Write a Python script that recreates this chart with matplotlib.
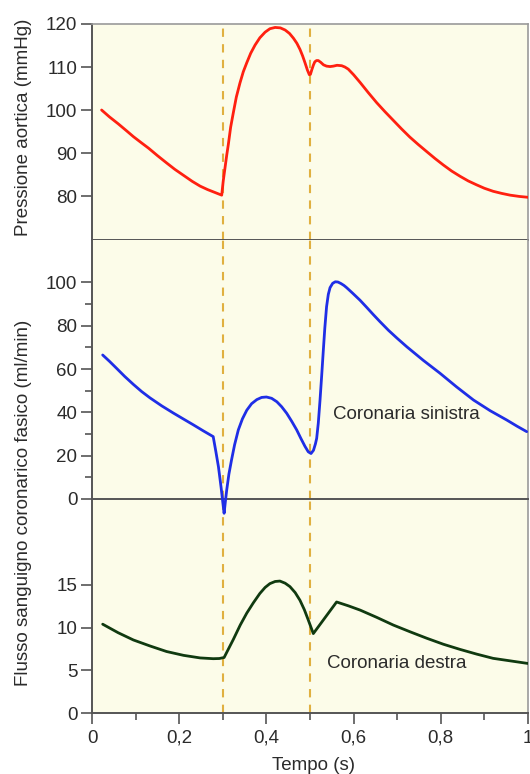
import matplotlib
matplotlib.use("Agg")
import matplotlib.pyplot as plt
from matplotlib.ticker import FixedLocator

plt.rcParams['font.family'] = ['Liberation Sans', 'DejaVu Sans']

# ---------------- data ----------------
t_aorta = [0.022, 0.04, 0.06, 0.08, 0.095, 0.113, 0.13, 0.15, 0.171, 0.19,
           0.21, 0.23, 0.248, 0.265, 0.28, 0.2975,
           0.301, 0.305, 0.309, 0.3127, 0.318, 0.324, 0.331, 0.3394, 0.347,
           0.355, 0.364, 0.374, 0.385, 0.397, 0.408, 0.42, 0.432, 0.443,
           0.453, 0.462, 0.47, 0.477, 0.483, 0.4885, 0.494, 0.4985, 0.501,
           0.504, 0.5076, 0.511, 0.515, 0.519, 0.5245, 0.531, 0.538, 0.546,
           0.5535, 0.562, 0.5727, 0.58, 0.5878, 0.60, 0.615, 0.634, 0.653,
           0.672, 0.691, 0.71, 0.729, 0.748, 0.768, 0.787, 0.806, 0.825,
           0.844, 0.863, 0.882, 0.90, 0.92, 0.94, 0.959, 0.98, 1.0]
p_aorta = [100.0, 98.4, 96.8, 95.1, 93.8, 92.4, 91.1, 89.4, 87.7, 86.2,
           84.8, 83.4, 82.3, 81.5, 80.9, 80.2,
           83.5, 86.5, 89.5, 92.0, 96.0, 99.3, 103.0, 106.3, 108.9,
           111.0, 113.2, 115.1, 116.8, 118.1, 118.9, 119.2, 119.1, 118.6,
           117.8, 116.7, 115.5, 114.1, 112.6, 111.0, 109.3, 108.2, 108.3,
           109.3, 110.4, 111.2, 111.5, 111.5, 111.1, 110.5, 110.2, 110.1,
           110.2, 110.4, 110.3, 110.0, 109.5, 108.2, 106.4, 104.0, 101.7,
           99.6, 97.6, 95.6, 93.7, 92.0, 90.3, 88.7, 87.2, 85.8,
           84.6, 83.5, 82.6, 81.8, 81.1, 80.6, 80.2, 79.9, 79.7]

t_sin = [0.0245, 0.04, 0.0566, 0.075, 0.095, 0.114, 0.133, 0.16, 0.1865,
         0.21, 0.232, 0.255, 0.278, 0.284, 0.29, 0.296, 0.3, 0.303, 0.306,
         0.309, 0.314, 0.32, 0.327, 0.3356, 0.345, 0.355, 0.366, 0.378,
         0.389, 0.40, 0.412, 0.424, 0.435, 0.4465, 0.458, 0.4695, 0.479,
         0.4885, 0.496, 0.5023, 0.508, 0.5125, 0.5153, 0.519, 0.523, 0.5268,
         0.5306, 0.534, 0.538, 0.542, 0.546, 0.552, 0.558, 0.564, 0.571,
         0.578, 0.584, 0.598, 0.6147, 0.63, 0.645, 0.66, 0.68, 0.70, 0.722,
         0.76, 0.798, 0.836, 0.875, 0.913, 0.951, 0.975, 0.997]
q_sin = [66.5, 63.6, 60.3, 56.6, 52.9, 49.6, 46.7, 43.0, 39.7,
         36.9, 34.3, 31.5, 28.8, 22.0, 14.9, 5.5, -1.5, -6.6, -1.0,
         4.2, 11.5, 18.0, 25.0, 31.9, 37.0, 41.0, 44.0, 45.9,
         46.9, 47.1, 46.5, 44.9, 42.6, 39.6, 35.9, 31.9, 28.0,
         24.3, 21.8, 21.0, 22.5, 25.5, 28.0, 35.0, 45.7, 57.0,
         68.8, 79.0, 88.8, 94.5, 97.6, 99.6, 100.3, 100.2, 99.5,
         98.6, 97.6, 95.0, 91.8, 88.5, 85.2, 82.0, 77.9, 74.2, 70.3,
         64.0, 58.1, 51.8, 45.7, 40.8, 36.5, 33.6, 31.1]

t_des = [0.0245, 0.06, 0.095, 0.133, 0.171, 0.21, 0.248, 0.278, 0.292,
         0.303, 0.313, 0.324, 0.34, 0.355, 0.37, 0.385, 0.397, 0.408, 0.42,
         0.431, 0.443, 0.454, 0.466, 0.477, 0.487, 0.496, 0.5076, 0.535,
         0.561, 0.588, 0.615, 0.653, 0.691, 0.73, 0.768, 0.806, 0.844,
         0.882, 0.92, 0.96, 1.0]
q_des = [10.4, 9.4, 8.55, 7.85, 7.2, 6.75, 6.45, 6.36, 6.38,
         6.5, 7.5, 8.6, 10.3, 11.7, 12.9, 14.0, 14.7, 15.15, 15.4,
         15.45, 15.2, 14.8, 14.1, 13.2, 12.1, 10.9, 9.3, 11.2,
         13.0, 12.55, 12.05, 11.2, 10.3, 9.5, 8.75, 8.05, 7.45,
         6.9, 6.4, 6.1, 5.8]

events = [0.3, 0.5]
x_major = [0, 0.2, 0.4, 0.6, 0.8, 1.0]
x_minor = [0.1, 0.3, 0.5, 0.7, 0.9]
x_labels = ["0", "0,2", "0,4", "0,6", "0,8", "1"]
y_top = [80, 90, 100, 110, 120]
y_mid = [0, 20, 40, 60, 80, 100]
y_mid_minor = [10, 30, 50, 70, 90]
y_bot = [0, 5, 10, 15]

# ---------------- styling ----------------
W, H = 530, 774
fig = plt.figure(figsize=(W / 100, H / 100), dpi=100)
fig.patch.set_facecolor('white')

bg = '#fcfce9'
dark = '#555555'
light = '#9a9a9a'
txt = '#2b2b2b'
fs = 13.5
left_px, right_px = 92, 528

def frac_rect(top_px, bot_px):
    return [left_px / W, 1 - bot_px / H, (right_px - left_px) / W, (bot_px - top_px) / H]

ax_top = fig.add_axes(frac_rect(24, 240))
ax_mid = fig.add_axes(frac_rect(240, 499))
ax_bot = fig.add_axes(frac_rect(499, 713))
ax_mid.set_zorder(3)

for ax in (ax_top, ax_mid, ax_bot):
    ax.set_facecolor(bg)
    ax.set_xlim(0, 1.0)
    for ev in events:
        ax.axvline(ev, color='#e0b040', lw=1.5, ls=(0, (4, 3.5)), zorder=1)
    ax.tick_params(axis='both', which='major', direction='out', length=8,
                   width=1.2, color=dark, labelsize=fs, labelcolor=txt, pad=2.5)
    ax.tick_params(axis='both', which='minor', direction='out', length=5,
                   width=1.2, color=dark)
    ax.spines['left'].set_color(dark)
    ax.spines['left'].set_linewidth(1.4)
    ax.spines['bottom'].set_color(dark)
    ax.spines['bottom'].set_linewidth(1.4)
    ax.spines['right'].set_color(light)
    ax.spines['right'].set_linewidth(1.2)
    ax.spines['top'].set_color(light)
    ax.spines['top'].set_linewidth(1.2)
    ax.set_xticks(x_major)

for ax in (ax_top, ax_mid):
    ax.tick_params(axis='x', which='both', bottom=False, labelbottom=False)

ax_mid.spines['top'].set_visible(False)
ax_bot.spines['top'].set_visible(False)

# top panel
ax_top.plot(t_aorta, p_aorta, color='#ff2010', lw=2.0, zorder=3,
            solid_joinstyle='round', solid_capstyle='round')
ax_top.set_ylim(69.77, 120)
ax_top.set_yticks(y_top)

# middle panel
ax_mid.plot(t_sin, q_sin, color='#1f2ee6', lw=2.0, zorder=3, clip_on=False,
            solid_joinstyle='round', solid_capstyle='round')
ax_mid.set_ylim(0, 119.6)
ax_mid.set_yticks(y_mid)
ax_mid.yaxis.set_minor_locator(FixedLocator(y_mid_minor))
ax_mid.text(0.553, 38.8, "Coronaria sinistra", fontsize=fs, color=txt,
            ha='left', va='center')

# bottom panel
ax_bot.plot(t_des, q_des, color='#103a10', lw=2.0, zorder=3,
            solid_joinstyle='round', solid_capstyle='round')
ax_bot.set_ylim(0, 25.06)
ax_bot.set_yticks(y_bot)
ax_bot.xaxis.set_minor_locator(FixedLocator(x_minor))
ax_bot.set_xticklabels(x_labels)
ax_bot.tick_params(axis='x', which='major', pad=4)
ax_bot.text(0.539, 5.85, "Coronaria destra", fontsize=fs, color=txt,
            ha='left', va='center')

# axis titles
fig.text(23.5 / W, 1 - 127 / H, "Pressione aortica (mmHg)", rotation=90,
         ha='center', va='center', fontsize=fs, color=txt)
fig.text(24 / W, 1 - 503 / H, "Flusso sanguigno coronarico fasico (ml/min)",
         rotation=90, ha='center', va='center', fontsize=fs, color=txt)
fig.text(313 / W, 1 - 765 / H, "Tempo (s)", ha='center', va='center',
         fontsize=fs, color=txt)

fig.savefig("out.png", dpi=100, facecolor='white')
